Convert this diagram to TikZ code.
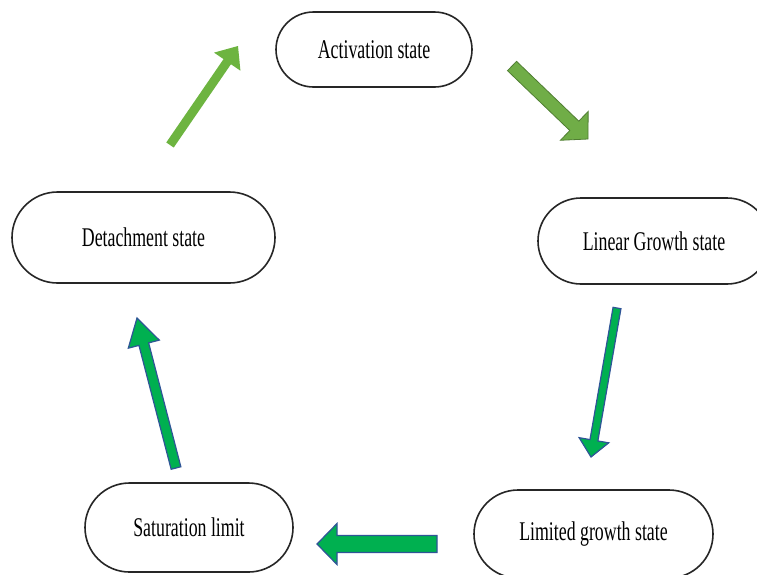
\documentclass[tikz,border=0pt]{standalone}
\usepackage{fontspec}
\setmainfont{Liberation Serif}[FakeStretch=0.66]
\usetikzlibrary{calc}
\definecolor{lightgr}{HTML}{6DB440}
\definecolor{midgr}{HTML}{70AD47}
\definecolor{midgredge}{HTML}{507E32}
\definecolor{brightgr}{HTML}{00B050}
\definecolor{blueedge}{HTML}{2F5597}
\newcommand\blockarrow[6]{%
  \path[#6] let \p1=($(#2)-(#1)$), \n1={atan2(\y1,\x1)} in
    ($(#1)+(\n1+90:#3)$) -- ($(#2)+(\n1+180:#5)+(\n1+90:#3)$) --
    ($(#2)+(\n1+180:#5)+(\n1+90:#4)$) -- (#2) --
    ($(#2)+(\n1+180:#5)+(\n1-90:#4)$) -- ($(#2)+(\n1+180:#5)+(\n1-90:#3)$) --
    ($(#1)+(\n1-90:#3)$) -- cycle;}
\tikzset{
  statebox/.style={draw=black!85, line width=1.6pt, fill=white, inner sep=0pt,
    font=\fontsize{27}{30}\selectfont},
  arrowlight/.style={fill=lightgr},
  arrowmid/.style={fill=midgr, draw=midgredge, line width=0.8pt},
  arrowblue/.style={fill=brightgr, draw=blueedge, line width=1.2pt, line join=miter},
}
\begin{document}
\begin{tikzpicture}[x=1pt,y=-1pt]
\useasboundingbox[fill=white] (0,0) rectangle (757,574);
\node[statebox, minimum width=196pt, minimum height=75pt, rounded corners=37.5pt] (act) at (374,49.5) {Activation state};
\node[statebox, minimum width=232pt, minimum height=86pt, rounded corners=43pt] (lin) at (654,241) {Linear Growth state};
\node[statebox, minimum width=239pt, minimum height=88pt, rounded corners=44pt] (lim) at (593.5,534) {Limited growth state};
\node[statebox, minimum width=208pt, minimum height=89pt, rounded corners=44.5pt] (sat) at (189,527.5) {Saturation limit};
\node[statebox, minimum width=263pt, minimum height=91pt, rounded corners=45.5pt] (det) at (143.5,237.5) {Detachment state};
% arrow end points
\coordinate (a1s) at (170,145);  \coordinate (a1e) at (238,46);
\coordinate (a2s) at (512,66);   \coordinate (a2e) at (588,139);
\coordinate (a3s) at (617,308);  \coordinate (a3e) at (591,457);
\coordinate (a4s) at (437,544);  \coordinate (a4e) at (317,544);
\coordinate (a5s) at (176,468);  \coordinate (a5e) at (137,318);
\blockarrow{a1s}{a1e}{4.5pt}{16pt}{19pt}{arrowlight}
\blockarrow{a2s}{a2e}{6.5pt}{20pt}{19pt}{arrowmid}
\blockarrow{a3s}{a3e}{4pt}{15pt}{17pt}{arrowblue}
\blockarrow{a4s}{a4e}{8.5pt}{20.5pt}{20pt}{arrowblue}
\blockarrow{a5s}{a5e}{5pt}{16pt}{27pt}{arrowblue}
\end{tikzpicture}
\end{document}
